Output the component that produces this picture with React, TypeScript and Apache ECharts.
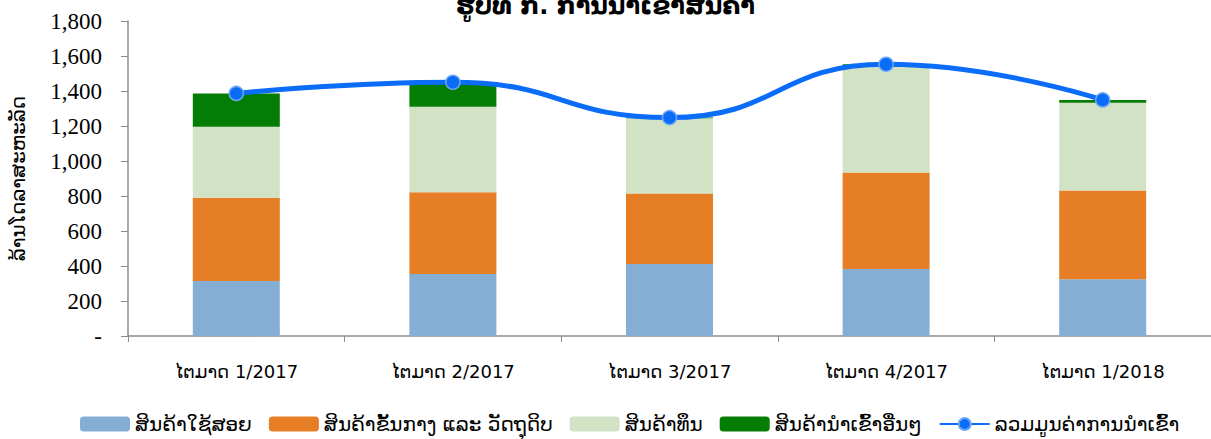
import React, { useEffect, useRef } from "react";
import * as echarts from "echarts";

const categories = ["ໄຕມາດ 1/2017", "ໄຕມາດ 2/2017", "ໄຕມາດ 3/2017", "ໄຕມາດ 4/2017", "ໄຕມາດ 1/2018"];
const consumerGoods = [315, 354, 411, 383, 324];
const intermediateGoods = [475, 467, 404, 552, 508];
const capitalGoods = [406, 489, 429, 604, 501];
const otherGoods = [190, 140, 4, 14, 16];
const totalImports = [1386, 1450, 1248, 1553, 1349];

const seriesNames = [
  "ສິນຄ້າໃຊ້ສອຍ",
  "ສິນຄ້າຂັ້ນກາງ ແລະ ວັດຖຸດິບ",
  "ສິນຄ້າທຶນ",
  "ສິນຄ້ານຳເຂົ້າອື່ນໆ",
  "ລວມມູນຄ່າການນຳເຂົ້າ",
];
const titleText = "ຮູບທີ ກ. ການນຳເຂົ້າສິນຄ້າ";
const yAxisName = "ລ້ານໂດລາສະຫະລັດ";

const LAO = "'DejaVu Sans', 'Noto Sans', sans-serif";

export default function App() {
  const ref = useRef<HTMLDivElement>(null);
  useEffect(() => {
    if (!ref.current) return;
    const chart = echarts.init(ref.current, undefined, { renderer: "svg" });
    const barBase = { type: "bar", stack: "total", barWidth: 87 };
    chart.setOption({
      animation: false,
      title: {
        text: titleText,
        left: "center",
        top: -11,
        textStyle: { fontFamily: LAO, fontSize: 24, fontWeight: "bold", color: "#000" },
      },
      legend: {
        left: 75,
        top: 409,
        itemWidth: 50,
        itemHeight: 15,
        itemGap: 17,
        textStyle: { fontFamily: LAO, fontSize: 20, color: "#000" },
        data: seriesNames,
      },
      grid: { left: 125, right: 0, top: 21, bottom: 103, containLabel: false },
      xAxis: {
        type: "category",
        data: categories,
        axisLine: { lineStyle: { color: "#8c8c8c", width: 1.5 } },
        axisTick: { show: true, length: 6, lineStyle: { color: "#8c8c8c" } },
        axisLabel: { fontFamily: LAO, fontSize: 18, color: "#000", margin: 26 },
      },
      yAxis: {
        type: "value",
        min: 0,
        max: 1800,
        interval: 200,
        name: yAxisName,
        nameLocation: "middle",
        nameRotate: 90,
        nameGap: 100,
        nameTextStyle: { fontFamily: LAO, fontSize: 20, color: "#000" },
        axisLine: { show: true, lineStyle: { color: "#8c8c8c", width: 1.5 } },
        axisTick: { show: true, length: 7, lineStyle: { color: "#8c8c8c" } },
        splitLine: { show: false },
        axisLabel: {
          fontFamily: "'Liberation Serif', serif",
          fontSize: 23,
          color: "#000",
          margin: 26,
          formatter: (v: number) => (v === 0 ? "-" : v.toLocaleString("en-US")),
        },
      },
      series: [
        { ...barBase, name: seriesNames[0], data: consumerGoods, itemStyle: { color: "#84AED3" } },
        { ...barBase, name: seriesNames[1], data: intermediateGoods, itemStyle: { color: "#E67E25" } },
        { ...barBase, name: seriesNames[2], data: capitalGoods, itemStyle: { color: "#D2E2C5" } },
        { ...barBase, name: seriesNames[3], data: otherGoods, itemStyle: { color: "#047D04" } },
        {
          type: "line",
          name: seriesNames[4],
          data: totalImports,
          smooth: 0.5,
          symbol: "circle",
          symbolSize: 14,
          lineStyle: { color: "#0A6CF7", width: 5 },
          itemStyle: { color: "#0A6CF7", borderColor: "#6FA8F7", borderWidth: 1.5 },
          z: 5,
        },
      ],
    });
    return () => chart.dispose();
  }, []);
  return (
    <div
      ref={ref}
      style={{ position: "absolute", left: 0, top: 0, width: 1211, height: 439, background: "#fff" }}
    />
  );
}
